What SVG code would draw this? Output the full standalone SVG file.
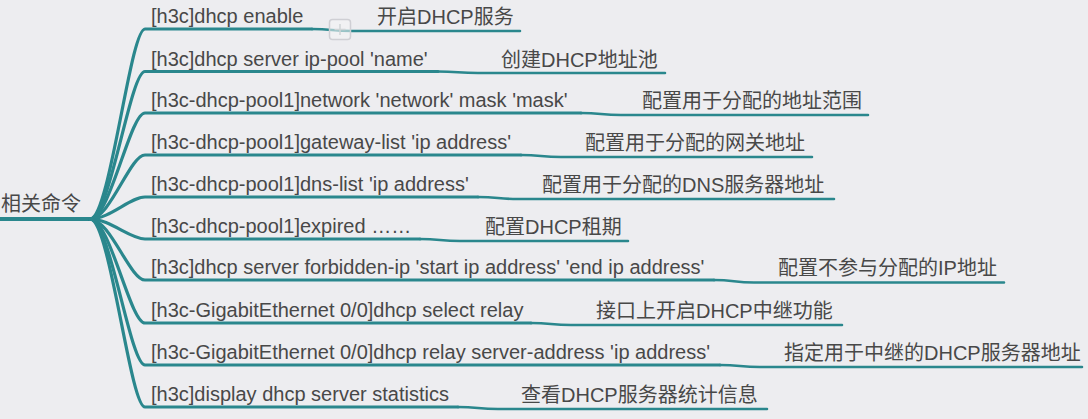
<svg xmlns="http://www.w3.org/2000/svg" width="1088" height="419" viewBox="0 0 1088 419">
<style>
.bg{fill:#ededf0}
.t{font-family:"Liberation Sans","Noto Sans CJK SC",sans-serif;font-size:20px;fill:#484848}
.br{fill:none;stroke:#2a878d;stroke-width:3.2;stroke-linecap:round}
.sub{fill:none;stroke:#2a878d;stroke-width:2.6;stroke-linecap:round}
.root{fill:none;stroke:#2a878d;stroke-width:4}
</style>
<rect class="bg" x="0" y="0" width="1088" height="419"/>
<g id="connectors">
<path class="root" d="M0 219 L92 219"/>
<path class="br" d="M90 219 C110 219 130 29 145 29 L312 29"/>
<path class="br" d="M90 219 C110 219 130 71.5 145 71.5 L438 71.5"/>
<path class="br" d="M90 219 C110 219 130 113 145 113 L581 113"/>
<path class="br" d="M90 219 C110 219 130 155 145 155 L521 155"/>
<path class="br" d="M90 219 C110 219 130 197 145 197 L478 197"/>
<path class="br" d="M90 219 C110 219 130 239 145 239 L420 239"/>
<path class="br" d="M90 219 C110 219 130 280 145 280 L714 280"/>
<path class="br" d="M90 219 C110 219 130 323 145 323 L531 323"/>
<path class="br" d="M90 219 C110 219 130 365 145 365 L720 365"/>
<path class="br" d="M90 219 C110 219 130 407 145 407 L458 407"/>
<path class="sub" d="M312 29 C332 29 332 31 352 31 L520 31"/>
<path class="sub" d="M438 71.5 C458 71.5 458 73 478 73 L665 73"/>
<path class="sub" d="M581 113 C601 113 601 115 621 115 L868 115"/>
<path class="sub" d="M521 155 C541 155 541 157 561 157 L812 157"/>
<path class="sub" d="M478 197 C498 197 498 199 518 199 L834 199"/>
<path class="sub" d="M420 239 C440 239 440 241 460 241 L628 241"/>
<path class="sub" d="M714 280 C734 280 734 282.5 754 282.5 L1004 282.5"/>
<path class="sub" d="M531 323 C551 323 551 325 571 325 L842 325"/>
<path class="sub" d="M720 365 C740 365 740 367 760 367 L1082 367"/>
<path class="sub" d="M458 407 C478 407 478 409 498 409 L767 409"/>
</g>
<g id="root"><text class="t" x="1" y="211">相关命令</text></g>
<g id="n1"><text class="t" x="151" y="23">[h3c]dhcp enable</text>
<rect x="329.5" y="19.5" width="21" height="20" rx="3" fill="#f4f4f6" fill-opacity="0.55" stroke="#cfcfd4" stroke-width="1.5"/>
<path d="M340 24 V35 M334.5 29.5 H345.5" stroke="#cfd4d6" stroke-width="1.5"/></g>
<g id="l1"><text class="t" x="377" y="24">开启DHCP服务</text></g>
<g id="n2"><text class="t" x="151" y="65.5">[h3c]dhcp server ip-pool 'name'</text></g>
<g id="l2"><text class="t" x="501" y="66.5">创建DHCP地址池</text></g>
<g id="n3"><text class="t" x="151" y="107">[h3c-dhcp-pool1]network 'network' mask 'mask'</text></g>
<g id="l3"><text class="t" x="642" y="108">配置用于分配的地址范围</text></g>
<g id="n4"><text class="t" x="151" y="149">[h3c-dhcp-pool1]gateway-list 'ip address'</text></g>
<g id="l4"><text class="t" x="585" y="150">配置用于分配的网关地址</text></g>
<g id="n5"><text class="t" x="151" y="191">[h3c-dhcp-pool1]dns-list 'ip address'</text></g>
<g id="l5"><text class="t" x="542" y="192">配置用于分配的DNS服务器地址</text></g>
<g id="n6"><text class="t" x="151" y="233">[h3c-dhcp-pool1]expired ……</text></g>
<g id="l6"><text class="t" x="485" y="234">配置DHCP租期</text></g>
<g id="n7"><text class="t" x="151" y="274">[h3c]dhcp server forbidden-ip 'start ip address' 'end ip address'</text></g>
<g id="l7"><text class="t" x="778" y="275">配置不参与分配的IP地址</text></g>
<g id="n8"><text class="t" x="151" y="317">[h3c-GigabitEthernet 0/0]dhcp select relay</text></g>
<g id="l8"><text class="t" x="596" y="318">接口上开启DHCP中继功能</text></g>
<g id="n9"><text class="t" x="151" y="359">[h3c-GigabitEthernet 0/0]dhcp relay server-address 'ip address'</text></g>
<g id="l9"><text class="t" x="784" y="360">指定用于中继的DHCP服务器地址</text></g>
<g id="n10"><text class="t" x="151" y="401">[h3c]display dhcp server statistics</text></g>
<g id="l10"><text class="t" x="521" y="402">查看DHCP服务器统计信息</text></g>
</svg>
